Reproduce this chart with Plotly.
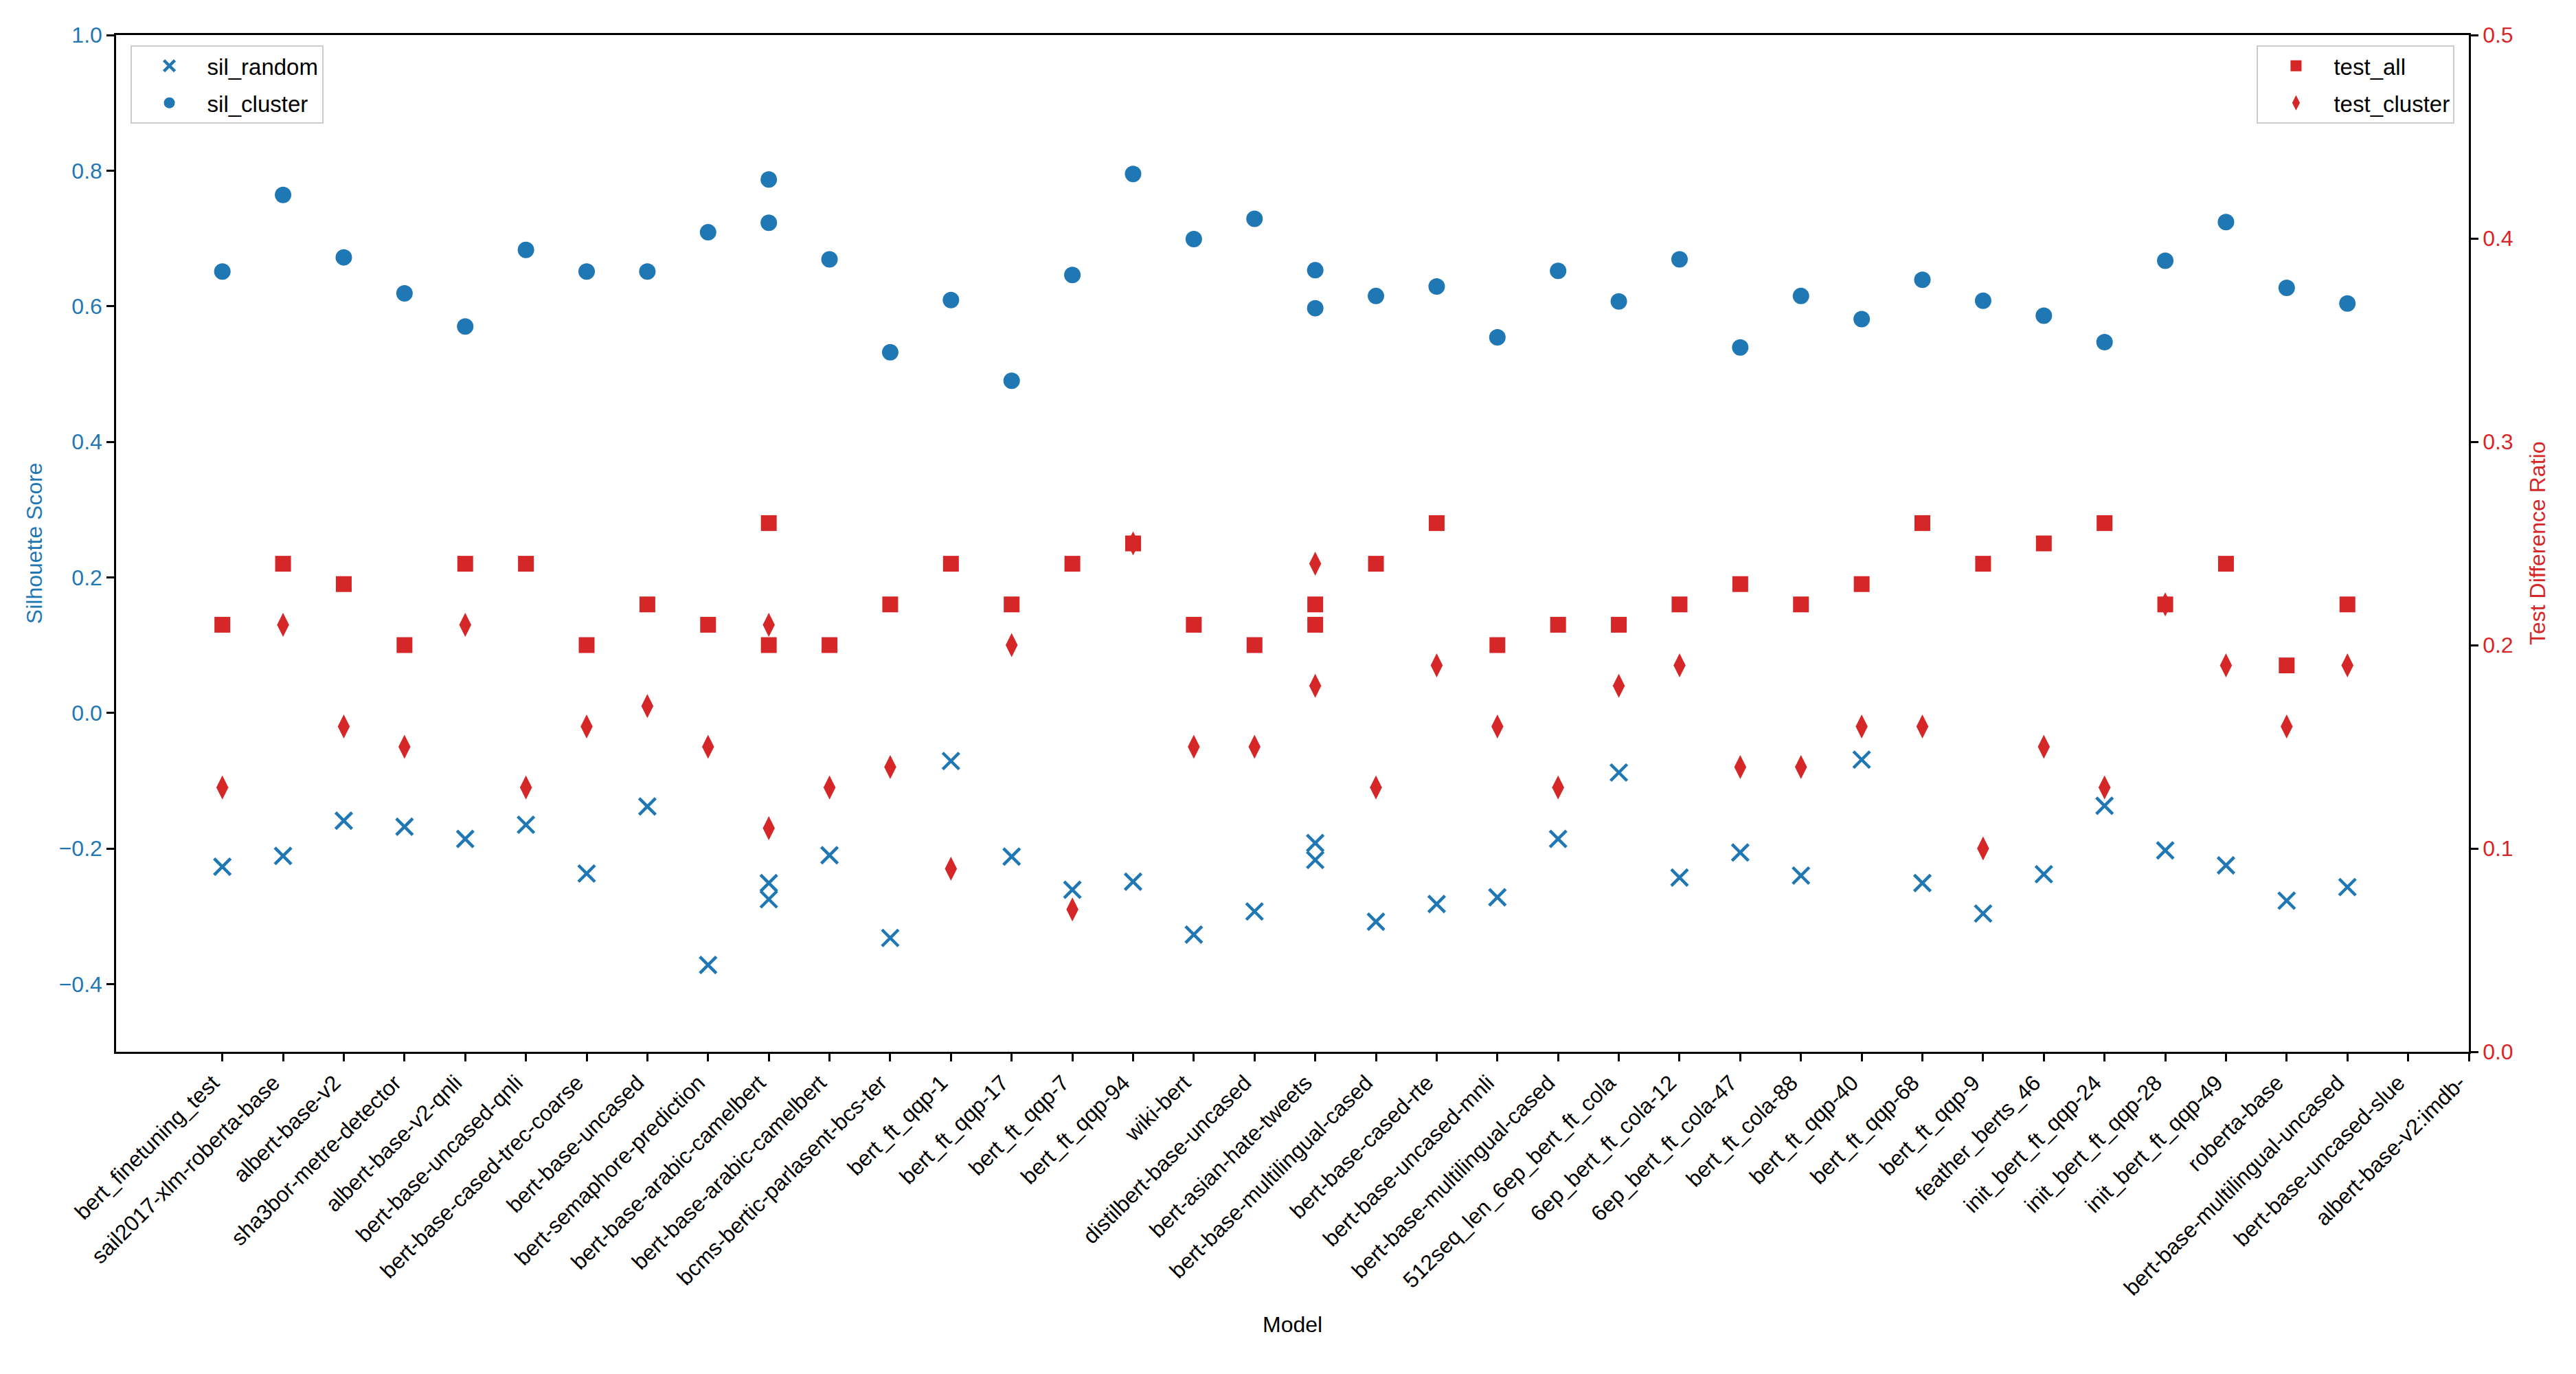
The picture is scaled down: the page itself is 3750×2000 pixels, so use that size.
import plotly.graph_objects as go

BLUE = "#1f77b4"
RED = "#d62728"
BLACK = "#000000"
FONT = "Liberation Sans, Arial, sans-serif"

models = [
    "bert_finetuning_test", "sail2017-xlm-roberta-base", "albert-base-v2",
    "sha3bor-metre-detector", "albert-base-v2-qnli", "bert-base-uncased-qnli",
    "bert-base-cased-trec-coarse", "bert-base-uncased", "bert-semaphore-prediction",
    "bert-base-arabic-camelbert", "bert-base-arabic-camelbert",
    "bcms-bertic-parlasent-bcs-ter", "bert_ft_qqp-1", "bert_ft_qqp-17",
    "bert_ft_qqp-7", "bert_ft_qqp-94", "wiki-bert", "distilbert-base-uncased",
    "bert-asian-hate-tweets", "bert-base-multilingual-cased", "bert-base-cased-rte",
    "bert-base-uncased-mnli", "bert-base-multilingual-cased",
    "512seq_len_6ep_bert_ft_cola", "6ep_bert_ft_cola-12", "6ep_bert_ft_cola-47",
    "bert_ft_cola-88", "bert_ft_qqp-40", "bert_ft_qqp-68", "bert_ft_qqp-9",
    "feather_berts_46", "init_bert_ft_qqp-24", "init_bert_ft_qqp-28",
    "init_bert_ft_qqp-49", "roberta-base", "bert-base-multilingual-uncased",
    "bert-base-uncased-slue", "albert-base-v2:imdb-",
]

sil_random = [
    -0.227, -0.211, -0.159, -0.168, -0.186, -0.165, -0.237, -0.138, -0.372,
    -0.251, -0.275, -0.210, -0.332, -0.071, -0.212, -0.261, -0.249, -0.327,
    -0.293, -0.192, -0.308, -0.282, -0.217, -0.272, -0.186, -0.088, -0.243,
    -0.206, -0.240, -0.069, -0.251, -0.296, -0.238, -0.137, -0.203, -0.225,
    -0.277, -0.257,
]
sil_cluster = [
    0.651, 0.764, 0.672, 0.619, 0.570, 0.683, 0.651, 0.651, 0.709,
    0.787, 0.723, 0.669, 0.532, 0.609, 0.490, 0.646, 0.795, 0.699,
    0.729, 0.653, 0.615, 0.629, 0.597, 0.554, 0.652, 0.607, 0.669,
    0.539, 0.615, 0.581, 0.639, 0.608, 0.586, 0.547, 0.667, 0.724,
    0.627, 0.604,
]
test_all = [
    0.21, 0.24, 0.23, 0.20, 0.24, 0.24, 0.20, 0.22, 0.21,
    0.26, 0.20, 0.20, 0.22, 0.24, 0.22, 0.24, 0.25, 0.21,
    0.20, 0.22, 0.24, 0.26, 0.21, 0.20, 0.21, 0.21, 0.22,
    0.23, 0.22, 0.23, 0.26, 0.24, 0.25, 0.26, 0.22, 0.24,
    0.19, 0.22,
]
test_cluster = [
    0.13, 0.21, 0.16, 0.15, 0.21, 0.13, 0.16, 0.17, 0.15,
    0.21, 0.11, 0.13, 0.14, 0.09, 0.20, 0.07, 0.25, 0.15,
    0.15, 0.24, 0.13, 0.19, 0.18, 0.16, 0.13, 0.18, 0.19,
    0.14, 0.14, 0.16, 0.16, 0.10, 0.15, 0.13, 0.22, 0.19,
    0.16, 0.19,
]

left_ticks = [-0.4, -0.2, 0.0, 0.2, 0.4, 0.6, 0.8, 1.0]
right_ticks = [0.0, 0.1, 0.2, 0.3, 0.4, 0.5]

# categorical positions: repeated names share the slot of their first occurrence
unique_models = list(dict.fromkeys(models))
x_pos = [unique_models.index(m) for m in models]

fig = go.Figure()

fig.add_trace(
    go.Scatter(
        x=x_pos, y=sil_random, mode="markers", name="sil_random",
        marker=dict(symbol="x-thin", size=24, color=BLUE, line=dict(color=BLUE, width=4.5)),
        legend="legend", legendgroup="a",
    )
)
fig.add_trace(
    go.Scatter(
        x=x_pos, y=sil_cluster, mode="markers", name="sil_cluster",
        marker=dict(symbol="circle", size=24, color=BLUE),
        legend="legend", legendgroup="b",
    )
)
fig.add_trace(
    go.Scatter(
        x=x_pos, y=test_all, mode="markers", name="test_all", yaxis="y2",
        marker=dict(symbol="square", size=23, color=RED),
        legend="legend2", legendgroup="c",
    )
)
fig.add_trace(
    go.Scatter(
        x=x_pos, y=test_cluster, mode="markers", name="test_cluster", yaxis="y2",
        marker=dict(symbol="diamond-tall", size=25, color=RED),
        legend="legend2", legendgroup="d",
    )
)

legend_style = dict(
    bgcolor="rgba(255,255,255,0.8)",
    bordercolor="#cccccc",
    borderwidth=2,
    font=dict(family=FONT, size=33, color=BLACK),
    itemsizing="trace",
    itemwidth=100,
    tracegroupgap=8,
    yanchor="top",
    y=0.99,
)

# the page body adds an 8px margin, so the figure is sized 8px smaller
fig.update_layout(
    width=3742,
    height=1992,
    paper_bgcolor="white",
    plot_bgcolor="white",
    font=dict(family=FONT, size=32, color=BLACK),
    margin=dict(l=161, r=156, t=43, b=469),
    showlegend=True,
    legend=dict(legend_style, x=0.006, xanchor="left"),
    legend2=dict(legend_style, x=0.994, xanchor="right"),
    xaxis=dict(
        range=[-1.75, 37],
        tickmode="array",
        tickvals=list(range(len(models))),
        ticktext=models,
        tickangle=-45,
        ticklabelshift=-14,
        tickfont=dict(family=FONT, size=32, color=BLACK),
        ticks="outside", ticklen=11, tickwidth=2.5, tickcolor=BLACK,
        showline=True, linecolor=BLACK, linewidth=2.5, mirror=True,
        showgrid=False, zeroline=False,
    ),
    yaxis=dict(
        range=[-0.5, 1.0],
        tickmode="array",
        tickvals=left_ticks,
        tickformat=".1f",
        tickfont=dict(family=FONT, size=32, color=BLUE),
        ticks="outside", ticklen=11, tickwidth=2.5, tickcolor=BLACK,
        showline=True, linecolor=BLACK, linewidth=2.5,
        showgrid=False, zeroline=False,
    ),
    yaxis2=dict(
        range=[0.0, 0.5],
        overlaying="y",
        side="right",
        tickmode="array",
        tickvals=right_ticks,
        tickformat=".1f",
        tickfont=dict(family=FONT, size=32, color=RED),
        ticks="outside", ticklen=11, tickwidth=2.5, tickcolor=BLACK,
        showline=True, linecolor=BLACK, linewidth=2.5,
        showgrid=False, zeroline=False,
    ),
)

# axis titles placed like matplotlib labels
fig.add_annotation(
    text="Model", xref="paper", yref="paper", x=0.5, y=-0.268,
    xanchor="center", yanchor="middle", showarrow=False,
    font=dict(family=FONT, size=32, color=BLACK),
)
fig.add_annotation(
    text="Silhouette Score", xref="paper", yref="paper", x=-0.0347, y=0.5,
    xanchor="center", yanchor="middle", textangle=-90, showarrow=False,
    font=dict(family=FONT, size=32, color=BLUE),
)
fig.add_annotation(
    text="Test Difference Ratio", xref="paper", yref="paper", x=1.0292, y=0.5,
    xanchor="center", yanchor="middle", textangle=-90, showarrow=False,
    font=dict(family=FONT, size=32, color=RED),
)

fig.write_html("out.html")
